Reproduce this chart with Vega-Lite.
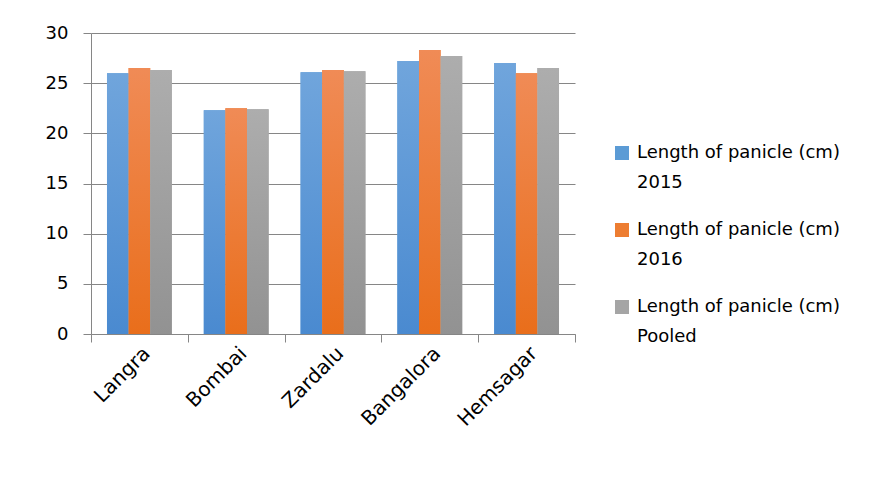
{
  "$schema": "https://vega.github.io/schema/vega-lite/v6.json",
  "width": 484,
  "height": 301,
  "autosize": {"type": "none"},
  "padding": {"left": 91, "top": 33, "right": 297, "bottom": 143},
  "background": "white",
  "data": {
    "values": [
      {"variety": "Langra", "series": "Length of panicle (cm) 2015", "value": 26.0},
      {"variety": "Langra", "series": "Length of panicle (cm) 2016", "value": 26.5},
      {"variety": "Langra", "series": "Length of panicle (cm) Pooled", "value": 26.3},
      {"variety": "Bombai", "series": "Length of panicle (cm) 2015", "value": 22.3},
      {"variety": "Bombai", "series": "Length of panicle (cm) 2016", "value": 22.5},
      {"variety": "Bombai", "series": "Length of panicle (cm) Pooled", "value": 22.4},
      {"variety": "Zardalu", "series": "Length of panicle (cm) 2015", "value": 26.1},
      {"variety": "Zardalu", "series": "Length of panicle (cm) 2016", "value": 26.3},
      {"variety": "Zardalu", "series": "Length of panicle (cm) Pooled", "value": 26.2},
      {"variety": "Bangalora", "series": "Length of panicle (cm) 2015", "value": 27.2},
      {"variety": "Bangalora", "series": "Length of panicle (cm) 2016", "value": 28.3},
      {"variety": "Bangalora", "series": "Length of panicle (cm) Pooled", "value": 27.7},
      {"variety": "Hemsagar", "series": "Length of panicle (cm) 2015", "value": 27.0},
      {"variety": "Hemsagar", "series": "Length of panicle (cm) 2016", "value": 26.0},
      {"variety": "Hemsagar", "series": "Length of panicle (cm) Pooled", "value": 26.5}
    ]
  },
  "encoding": {
    "x": {
      "field": "variety",
      "type": "nominal",
      "sort": null,
      "title": null,
      "scale": {"paddingInner": 0, "paddingOuter": 0},
      "axis": {
        "labelAngle": -45,
        "labelAlign": "right",
        "labelBaseline": "middle",
        "labelPadding": 8,
        "labelOffset": 7,
        "tickBand": "extent",
        "tickSize": 8,
        "tickColor": "#868686",
        "domainColor": "#868686",
        "labelFont": "DejaVu Sans",
        "labelFontSize": 20,
        "labelColor": "#000000",
        "grid": false
      }
    },
    "xOffset": {
      "field": "series",
      "type": "nominal",
      "scale": {"paddingInner": 0, "paddingOuter": 0.74}
    },
    "y": {
      "field": "value",
      "type": "quantitative",
      "title": null,
      "scale": {"domain": [0, 30], "nice": false},
      "axis": {
        "values": [0, 5, 10, 15, 20, 25, 30],
        "tickSize": 8,
        "tickColor": "#868686",
        "domainColor": "#868686",
        "gridColor": "#868686",
        "labelPadding": 15,
        "labelFont": "DejaVu Sans",
        "labelFontSize": 18,
        "labelColor": "#000000"
      }
    }
  },
  "layer": [
    {
      "mark": {"type": "bar"},
      "encoding": {
        "color": {
          "field": "series",
          "type": "nominal",
          "title": null,
          "scale": {"range": ["#5B9BD5", "#ED7D31", "#A5A5A5"]},
          "legend": {
            "orient": "none",
            "legendX": 522,
            "legendY": 111,
            "symbolType": "square",
            "symbolSize": 196,
            "symbolStrokeWidth": 0,
            "labelFont": "DejaVu Sans",
            "labelFontSize": 18,
            "labelColor": "#000000",
            "labelLimit": 400,
            "labelExpr": "[slice(datum.label, 0, 22), slice(datum.label, 23)]",
            "labelBaseline": "middle",
            "labelOffset": 6,
            "rowPadding": 29
          }
        }
      }
    },
    {
      "transform": [{"filter": "datum.series === 'Length of panicle (cm) 2015'"}],
      "mark": {"type": "bar", "fill": {"gradient": "linear", "x1": 0, "y1": 0, "x2": 0, "y2": 1, "stops": [{"offset": 0, "color": "#70A5DC"}, {"offset": 1, "color": "#4A8AD0"}]}}
    },
    {
      "transform": [{"filter": "datum.series === 'Length of panicle (cm) 2016'"}],
      "mark": {"type": "bar", "fill": {"gradient": "linear", "x1": 0, "y1": 0, "x2": 0, "y2": 1, "stops": [{"offset": 0, "color": "#F08B56"}, {"offset": 1, "color": "#E96E1B"}]}}
    },
    {
      "transform": [{"filter": "datum.series === 'Length of panicle (cm) Pooled'"}],
      "mark": {"type": "bar", "fill": {"gradient": "linear", "x1": 0, "y1": 0, "x2": 0, "y2": 1, "stops": [{"offset": 0, "color": "#ADADAD"}, {"offset": 1, "color": "#929292"}]}}
    }
  ],
  "config": {
    "view": {"stroke": null},
    "axis": {"gridWidth": 1, "domainWidth": 1, "tickWidth": 1},
    "style": {"guide-label": {"lineHeight": 30}}
  }
}
